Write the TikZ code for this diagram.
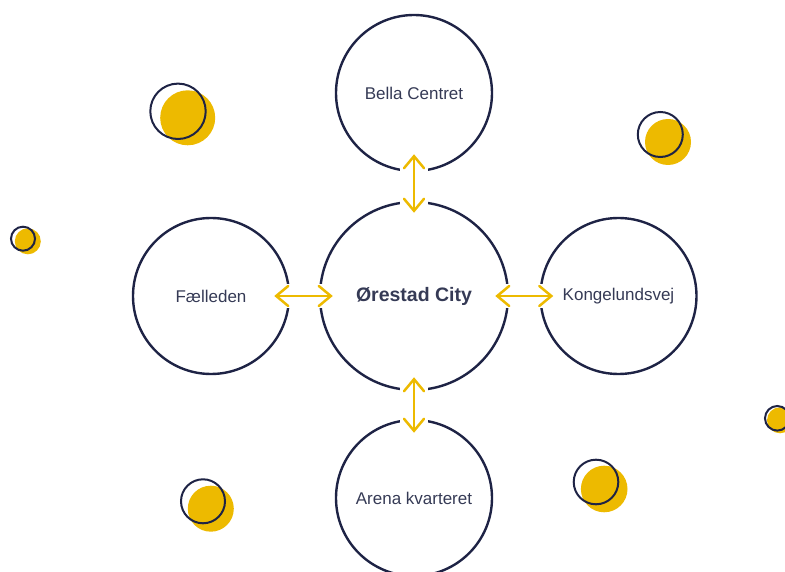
\documentclass[tikz,border=0pt]{standalone}
\usepackage{fontspec}
\setmainfont{Liberation Sans}
\usetikzlibrary{calc}
\definecolor{navy}{HTML}{1E2345}
\definecolor{gold}{HTML}{EDBA00}
\definecolor{txt}{HTML}{353A55}
\begin{document}
\begin{tikzpicture}[x=1pt,y=-1pt,
  place/.style={circle,draw=navy,line width=2.4pt,inner sep=0pt,minimum size=156pt,text=txt,font=\fontsize{17}{20}\selectfont},
  hub/.style={place,minimum size=188pt,font=\bfseries\fontsize{19.5}{23}\selectfont},
  halo/.style={draw=white,line width=28pt},
  link/.style={draw=gold,line width=2.5pt,line cap=round,line join=miter},
  dotfill/.style={fill=gold},
  dotring/.style={draw=navy,line width=2pt}]
\useasboundingbox (0,0) rectangle (785,572);
\clip (0,0) rectangle (785,572);
% decorative dots
\fill[dotfill] (187.7,117.8) circle[radius=27.5pt];
\draw[dotring] (178,111.3) circle[radius=27.7pt];
\fill[dotfill] (668,142) circle[radius=23pt];
\draw[dotring] (660.3,134.5) circle[radius=22.5pt];
\fill[dotfill] (27.8,241.3) circle[radius=13pt];
\draw[dotring] (23,238.7) circle[radius=12pt];
\fill[dotfill] (780,420.3) circle[radius=13pt];
\draw[dotring] (777.3,418.3) circle[radius=12.3pt];
\fill[dotfill] (210.8,508.7) circle[radius=23pt];
\draw[dotring] (203,501.3) circle[radius=22pt];
\fill[dotfill] (604.2,489) circle[radius=23.3pt];
\draw[dotring] (596,482) circle[radius=22.3pt];
% circles
\node[hub] (c) at (414,296) {Ørestad City};
\node[place] (t) at (414,93) {Bella Centret};
\node[place] (l) at (211,296) {Fælleden};
\node[place] (r) at (618.5,296) {Kongelundsvej};
\node[place] (b) at (414,498) {Arena kvarteret};
% arrow end points
\coordinate (tA) at ($(t.south)+(0,-16)$);
\coordinate (tB) at ($(c.north)+(0,10)$);
\coordinate (lA) at ($(l.east)+(-14,0)$);
\coordinate (lB) at ($(c.west)+(12,0)$);
\coordinate (rA) at ($(c.east)+(-12,0)$);
\coordinate (rB) at ($(r.west)+(12,0)$);
\coordinate (bA) at ($(c.south)+(0,-12)$);
\coordinate (bB) at ($(b.north)+(0,12)$);
% white gaps behind arrows
\draw[halo] (tA) -- (tB);
\draw[halo,line width=24pt] (lA) -- (lB);
\draw[halo,line width=24pt] (rA) -- (rB);
\draw[halo] (bA) -- (bB);
% arrows
\draw[link] (tA) -- (tB);
\draw[link] ($(tA)+(-10,12)$) -- (tA) -- ($(tA)+(10,12)$);
\draw[link] ($(tB)+(-10,-12)$) -- (tB) -- ($(tB)+(10,-12)$);
\draw[link] (lA) -- (lB);
\draw[link] ($(lA)+(12,-10)$) -- (lA) -- ($(lA)+(12,10)$);
\draw[link] ($(lB)+(-12,-10)$) -- (lB) -- ($(lB)+(-12,10)$);
\draw[link] (rA) -- (rB);
\draw[link] ($(rA)+(12,-10)$) -- (rA) -- ($(rA)+(12,10)$);
\draw[link] ($(rB)+(-12,-10)$) -- (rB) -- ($(rB)+(-12,10)$);
\draw[link] (bA) -- (bB);
\draw[link] ($(bA)+(-10,12)$) -- (bA) -- ($(bA)+(10,12)$);
\draw[link] ($(bB)+(-10,-12)$) -- (bB) -- ($(bB)+(10,-12)$);
\end{tikzpicture}
\end{document}
